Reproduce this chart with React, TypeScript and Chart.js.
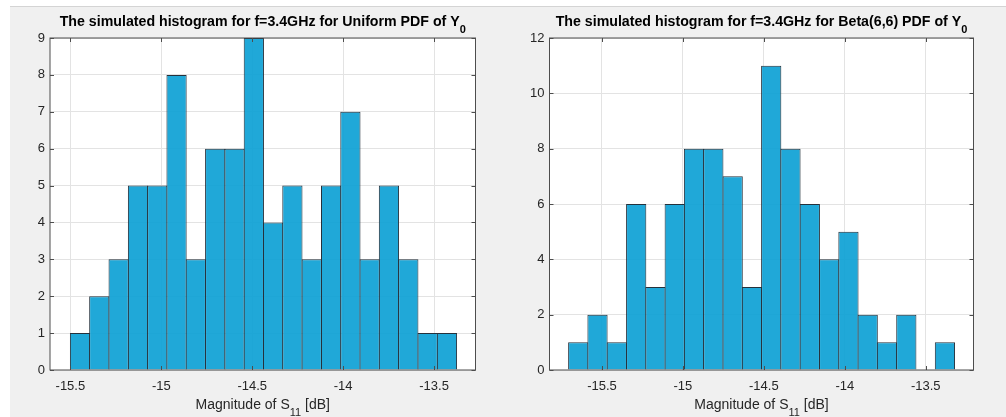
import React, { useEffect, useRef } from "react";
import { Chart, registerables } from "chart.js";

Chart.register(...registerables);

// Histogram bin edges (21 edges -> 20 bins) and counts per bin
const uniformBinEdges = [
  -15.5, -15.394, -15.288, -15.181, -15.075, -14.969, -14.863, -14.757, -14.65, -14.544,
  -14.438, -14.332, -14.226, -14.119, -14.013, -13.907, -13.801, -13.695, -13.588, -13.482,
  -13.376,
];
const uniformCounts = [1, 2, 3, 5, 5, 8, 3, 6, 6, 9, 4, 5, 3, 5, 7, 3, 5, 3, 1, 1];

const betaBinEdges = [
  -15.706, -15.587, -15.468, -15.348, -15.229, -15.11, -14.991, -14.872, -14.752, -14.633,
  -14.514, -14.395, -14.276, -14.156, -14.037, -13.918, -13.799, -13.68, -13.56, -13.441,
  -13.322,
];
const betaCounts = [1, 2, 1, 6, 3, 6, 8, 8, 7, 3, 11, 8, 6, 4, 5, 2, 1, 2, 0, 1];

// Axis ticks
const xTickValues = [-15.5, -15, -14.5, -14, -13.5];
const uniformYTicks = [0, 1, 2, 3, 4, 5, 6, 7, 8, 9];
const betaYTicks = [0, 2, 4, 6, 8, 10, 12];

// Text
const uniformTitle = "The simulated histogram for f=3.4GHz for Uniform PDF of Y";
const betaTitle = "The simulated histogram for f=3.4GHz for Beta(6,6) PDF of Y";
const titleSubscript = "0";
const xLabelMain = "Magnitude of S";
const xLabelSubscript = "11";
const xLabelTail = " [dB]";

const FONT = "'Liberation Sans', Arial, Helvetica, sans-serif";
const AXIS_COLOR = "#4d4d4d";
const TEXT_COLOR = "#262626";
const GRID_COLOR = "#e3e3e3";
const BAR_FILL = "rgba(8,159,212,0.9)";
const BAR_EDGE = "#25313c";

type Segment = { text: string; font: string; dy: number };

function drawSegments(ctx: CanvasRenderingContext2D, segs: Segment[], cx: number, baseline: number, color: string) {
  let total = 0;
  const widths = segs.map((s) => {
    ctx.font = s.font;
    const w = ctx.measureText(s.text).width;
    total += w;
    return w;
  });
  let x = cx - total / 2;
  ctx.fillStyle = color;
  ctx.textAlign = "left";
  ctx.textBaseline = "alphabetic";
  segs.forEach((s, i) => {
    ctx.font = s.font;
    ctx.fillText(s.text, x, baseline + s.dy);
    x += widths[i];
  });
}

type PanelSpec = {
  edges: number[];
  counts: number[];
  yTicks: number[];
  xMin: number;
  xMax: number;
  title: string;
  yAxisWidth: number;
  padRight: number;
};

function makeChart(canvas: HTMLCanvasElement, spec: PanelSpec) {
  const frame = {
    id: "frame",
    beforeDraw(chart: any) {
      const { ctx, chartArea: a } = chart;
      ctx.save();
      ctx.fillStyle = "#ffffff";
      ctx.fillRect(a.left, a.top, a.right - a.left, a.bottom - a.top);
      ctx.restore();
    },
    afterDraw(chart: any) {
      const { ctx, chartArea: a, scales } = chart;
      ctx.save();
      ctx.strokeStyle = AXIS_COLOR;
      ctx.lineWidth = 1;
      const tick = 4;
      ctx.beginPath();
      xTickValues.forEach((v) => {
        const px = Math.round(scales.x.getPixelForValue(v)) + 0.5;
        ctx.moveTo(px, a.bottom);
        ctx.lineTo(px, a.bottom - tick);
        ctx.moveTo(px, a.top);
        ctx.lineTo(px, a.top + tick);
      });
      spec.yTicks.forEach((v) => {
        const py = Math.round(scales.y.getPixelForValue(v)) + 0.5;
        ctx.moveTo(a.left, py);
        ctx.lineTo(a.left + tick, py);
        ctx.moveTo(a.right, py);
        ctx.lineTo(a.right - tick, py);
      });
      ctx.stroke();
      ctx.strokeRect(a.left, a.top, a.right - a.left, a.bottom - a.top);

      const cx = (a.left + a.right) / 2;
      drawSegments(
        ctx,
        [
          { text: spec.title, font: `bold 14.2px ${FONT}`, dy: 0 },
          { text: titleSubscript, font: `bold 11px ${FONT}`, dy: 7 },
        ],
        cx,
        26,
        "#000000"
      );
      drawSegments(
        ctx,
        [
          { text: xLabelMain, font: `14px ${FONT}`, dy: 0 },
          { text: xLabelSubscript, font: `11px ${FONT}`, dy: 7 },
          { text: xLabelTail, font: `14px ${FONT}`, dy: 0 },
        ],
        cx,
        409,
        TEXT_COLOR
      );
      ctx.restore();
    },
  };

  const points = spec.counts.map((c, i) => ({
    x: (spec.edges[i] + spec.edges[i + 1]) / 2,
    y: c,
  }));

  return new Chart(canvas, {
    type: "bar",
    data: {
      datasets: [
        {
          data: points,
          backgroundColor: BAR_FILL,
          borderColor: BAR_EDGE,
          borderWidth: 1,
          barPercentage: 1.05,
          categoryPercentage: 1,
          grouped: false,
        },
      ],
    },
    options: {
      responsive: false,
      animation: false,
      devicePixelRatio: 1,
      layout: { padding: { left: 0, right: spec.padRight, top: 38, bottom: 0 } },
      plugins: {
        legend: { display: false },
        tooltip: { enabled: false },
        title: { display: false },
      },
      scales: {
        x: {
          type: "linear",
          min: spec.xMin,
          max: spec.xMax,
          offset: false,
          grid: { color: GRID_COLOR, drawTicks: false, offset: false },
          border: { display: false },
          ticks: {
            color: TEXT_COLOR,
            font: { size: 13, family: FONT },
            padding: 9,
            maxRotation: 0,
            autoSkip: false,
            callback: (v: any) => String(v),
          },
          afterBuildTicks: (s: any) => {
            s.ticks = xTickValues.map((v) => ({ value: v }));
          },
          afterFit: (s: any) => {
            s.height = 47;
          },
        },
        y: {
          type: "linear",
          min: spec.yTicks[0],
          max: spec.yTicks[spec.yTicks.length - 1],
          grid: { color: GRID_COLOR, drawTicks: false },
          border: { display: false },
          ticks: {
            color: TEXT_COLOR,
            font: { size: 13, family: FONT },
            padding: 5,
            callback: (v: any) => String(v),
          },
          afterBuildTicks: (s: any) => {
            s.ticks = spec.yTicks.map((v) => ({ value: v }));
          },
          afterFit: (s: any) => {
            s.width = spec.yAxisWidth;
          },
        },
      },
    },
    plugins: [frame],
  } as any);
}

export default function App() {
  const leftRef = useRef<HTMLCanvasElement | null>(null);
  const rightRef = useRef<HTMLCanvasElement | null>(null);

  useEffect(() => {
    const left = makeChart(leftRef.current!, {
      edges: uniformBinEdges,
      counts: uniformCounts,
      yTicks: uniformYTicks,
      xMin: -15.612,
      xMax: -13.272,
      title: uniformTitle,
      yAxisWidth: 50,
      padRight: 24.5,
    });
    const right = makeChart(rightRef.current!, {
      edges: betaBinEdges,
      counts: betaCounts,
      yTicks: betaYTicks,
      xMin: -15.824,
      xMax: -13.205,
      title: betaTitle,
      yAxisWidth: 49.5,
      padRight: 32.5,
    });
    return () => {
      left.destroy();
      right.destroy();
    };
  }, []);

  return (
    <div
      style={{
        position: "absolute",
        left: 0,
        top: 0,
        width: 1006,
        height: 417,
        background: "#ffffff",
        overflow: "hidden",
      }}
    >
      <div
        style={{
          position: "absolute",
          left: 10,
          top: 6,
          right: 0,
          bottom: 0,
          background: "#f0f0f0",
          borderTop: "1px solid #d4d4d4",
        }}
      />
      <canvas
        ref={leftRef}
        width={500}
        height={417}
        style={{ position: "absolute", left: 0, top: 0, width: 500, height: 417 }}
      />
      <canvas
        ref={rightRef}
        width={506}
        height={417}
        style={{ position: "absolute", left: 500, top: 0, width: 506, height: 417 }}
      />
    </div>
  );
}
